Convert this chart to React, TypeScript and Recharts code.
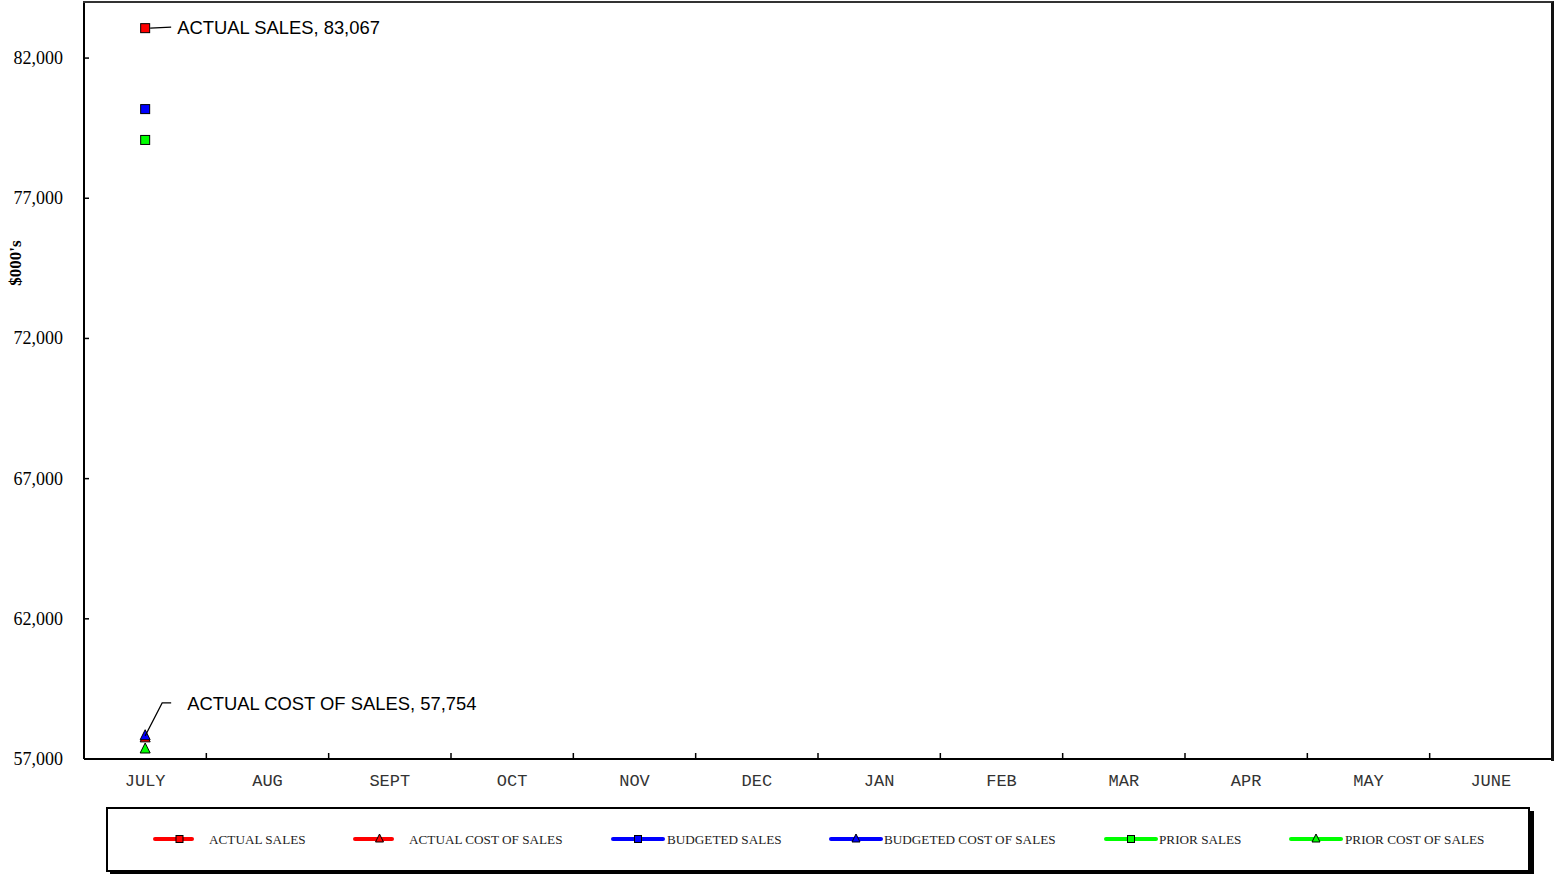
import React from "react";
import { LineChart, Line, XAxis, YAxis, LabelList } from "recharts";

const months = ["JULY", "AUG", "SEPT", "OCT", "NOV", "DEC", "JAN", "FEB", "MAR", "APR", "MAY", "JUNE"];
const actualSales = [83067, null, null, null, null, null, null, null, null, null, null, null];
const actualCost = [57754, null, null, null, null, null, null, null, null, null, null, null];
const budgetedSales = [80180, null, null, null, null, null, null, null, null, null, null, null];
const budgetedCost = [57830, null, null, null, null, null, null, null, null, null, null, null];
const priorSales = [79080, null, null, null, null, null, null, null, null, null, null, null];
const priorCost = [57357, null, null, null, null, null, null, null, null, null, null, null];
const yTicks = [57000, 62000, 67000, 72000, 77000, 82000];

const data = months.map((m, i) => ({
    month: m,
    actualSales: actualSales[i],
    actualCost: actualCost[i],
    budgetedSales: budgetedSales[i],
    budgetedCost: budgetedCost[i],
    priorSales: priorSales[i],
    priorCost: priorCost[i],
}));

const RED = "#ff0000";
const BLUE = "#0000ff";
const GREEN = "#00ff00";

const series = [
    { key: "actualSales", name: "ACTUAL SALES", color: RED, shape: "square" },
    { key: "actualCost", name: "ACTUAL COST OF SALES", color: RED, shape: "triangle" },
    { key: "budgetedSales", name: "BUDGETED SALES", color: BLUE, shape: "square" },
    { key: "budgetedCost", name: "BUDGETED COST OF SALES", color: BLUE, shape: "triangle" },
    { key: "priorSales", name: "PRIOR SALES", color: GREEN, shape: "square" },
    { key: "priorCost", name: "PRIOR COST OF SALES", color: GREEN, shape: "triangle" },
];

const W = 1554;
const H = 874;
const PLOT_LEFT = 84;
const PLOT_RIGHT = 1552;
const HALF_BAND = (PLOT_RIGHT - PLOT_LEFT) / months.length / 2;

const Marker = ({ cx, cy, color, shape, size = 9 }: any) => {
    if (shape === "square") {
        return <rect x={cx - size / 2} y={cy - size / 2} width={size} height={size} fill={color} stroke="#000" strokeWidth={1} />;
    }
    const s = size + 1;
    return (
        <polygon
            points={`${cx},${cy - s / 2 - 1} ${cx - s / 2},${cy + s / 2 - 1} ${cx + s / 2},${cy + s / 2 - 1}`}
            fill={color}
            stroke="#000"
            strokeWidth={1}
        />
    );
};

const XTick = ({ x, y, payload, index }: any) => (
    <g>
        {index < months.length - 1 && (
            <line x1={x + HALF_BAND} x2={x + HALF_BAND} y1={y} y2={y - 6} stroke="#000" strokeWidth={1.5} />
        )}
        <text x={x} y={y + 27} textAnchor="middle" fontFamily="'Liberation Mono', 'DejaVu Sans Mono', monospace" fontSize={17} fill="#333">
            {payload.value}
        </text>
    </g>
);

const YTick = ({ x, y, payload }: any) => (
    <g>
        <line x1={PLOT_LEFT} x2={PLOT_LEFT + 5} y1={y} y2={y} stroke="#000" strokeWidth={1.5} />
        <text x={x} y={y + 6} textAnchor="end" fontFamily="'Times New Roman', 'Liberation Serif', serif" fontSize={18} fill="#000">
            {payload.value.toLocaleString("en-US")}
        </text>
    </g>
);

const annFont = "Arial, 'Liberation Sans', sans-serif";

const SalesLabel = ({ x, y, value, index }: any) => {
    if (index !== 0 || value == null) return null;
    return (
        <g>
            <line x1={x + 5} x2={x + 26} y1={y} y2={y - 1} stroke="#000" strokeWidth={1.2} />
            <text x={x + 32} y={y + 6} fontFamily={annFont} fontSize={18.4} fill="#000">
                ACTUAL SALES, {value.toLocaleString("en-US")}
            </text>
        </g>
    );
};

const CostLabel = ({ x, y, value, index }: any) => {
    if (index !== 0 || value == null) return null;
    return (
        <g>
            <polyline points={`${x},${y - 2} ${x + 17},${y - 35} ${x + 26},${y - 35}`} fill="none" stroke="#000" strokeWidth={1.2} />
            <text x={x + 42} y={y - 28} fontFamily={annFont} fontSize={18.4} fill="#000">
                ACTUAL COST OF SALES, {value.toLocaleString("en-US")}
            </text>
        </g>
    );
};

const legendPos = [
    { line: [155, 192], text: 209 },
    { line: [355, 392], text: 409 },
    { line: [613, 663], text: 667 },
    { line: [831, 881], text: 884 },
    { line: [1106, 1156], text: 1159 },
    { line: [1291, 1341], text: 1345 },
];

const LegendBox = () => (
    <div
        style={{
            position: "absolute",
            left: 106,
            top: 807,
            width: 1420,
            height: 61,
            border: "2px solid #000",
            boxShadow: "4px 4px 0 #000",
            background: "#fff",
        }}
    >
        <svg width={1420} height={61} style={{ position: "absolute", left: 0, top: 0 }}>
            {series.map((s, i) => {
                const p = legendPos[i];
                const x1 = p.line[0] - 108;
                const x2 = p.line[1] - 108;
                const cy = 30;
                return (
                    <g key={s.key}>
                        <line x1={x1} x2={x2} y1={cy} y2={cy} stroke={s.color} strokeWidth={4} strokeLinecap="round" />
                        <Marker cx={(x1 + x2) / 2 + (i < 2 ? 6 : 0)} cy={cy} color={s.color} shape={s.shape} size={7} />
                        <text x={p.text - 108} y={cy + 5} fontFamily="'Times New Roman', 'Liberation Serif', serif" fontSize={13.2} fill="#222">
                            {s.name}
                        </text>
                    </g>
                );
            })}
        </svg>
    </div>
);

const App: React.FC = () => {
    return (
        <div style={{ position: "absolute", left: 0, top: 0, width: W, height: H, background: "#fff" }}>
            <LineChart width={W} height={H} data={data} margin={{ top: 2, right: W - PLOT_RIGHT, left: 0, bottom: 75 }}>
                <XAxis
                    dataKey="month"
                    scale="band"
                    height={40}
                    interval={0}
                    tickSize={0}
                    tickMargin={0}
                    tick={<XTick />}
                    axisLine={{ stroke: "#000", strokeWidth: 2 }}
                    tickLine={false}
                />
                <YAxis
                    width={PLOT_LEFT}
                    domain={[57000, 84000]}
                    ticks={yTicks}
                    allowDataOverflow
                    tickSize={0}
                    tickMargin={21}
                    tick={<YTick />}
                    tickLine={false}
                    axisLine={{ stroke: "#000", strokeWidth: 2 }}
                    label={{
                        content: () => (
                            <text
                                x={21}
                                y={263}
                                transform="rotate(-90 21 263)"
                                textAnchor="middle"
                                fontFamily="'Times New Roman', 'Liberation Serif', serif"
                                fontWeight="bold"
                                fontSize={17}
                                fill="#000"
                            >
                                $000's
                            </text>
                        ),
                    }}
                />
                {series.map((s) => (
                    <Line
                        key={s.key}
                        dataKey={s.key}
                        name={s.name}
                        stroke={s.color}
                        strokeWidth={3}
                        isAnimationActive={false}
                        activeDot={false}
                        dot={(p: any) =>
                            p.value == null || p.cy == null ? (
                                <g key={p.key} />
                            ) : (
                                <g key={p.key}>
                                    <Marker cx={p.cx} cy={p.cy} color={s.color} shape={s.shape} />
                                </g>
                            )
                        }
                    >
                        {s.key === "actualSales" && <LabelList dataKey="actualSales" content={<SalesLabel />} />}
                        {s.key === "actualCost" && <LabelList dataKey="actualCost" content={<CostLabel />} />}
                    </Line>
                ))}
            </LineChart>
            <div
                style={{
                    position: "absolute",
                    left: PLOT_LEFT - 1,
                    top: 1,
                    width: PLOT_RIGHT - PLOT_LEFT,
                    height: 758,
                    borderTop: "2px solid #333",
                    borderRight: "3px solid #111",
                    pointerEvents: "none",
                }}
            />
            <LegendBox />
        </div>
    );
};

export default App;
